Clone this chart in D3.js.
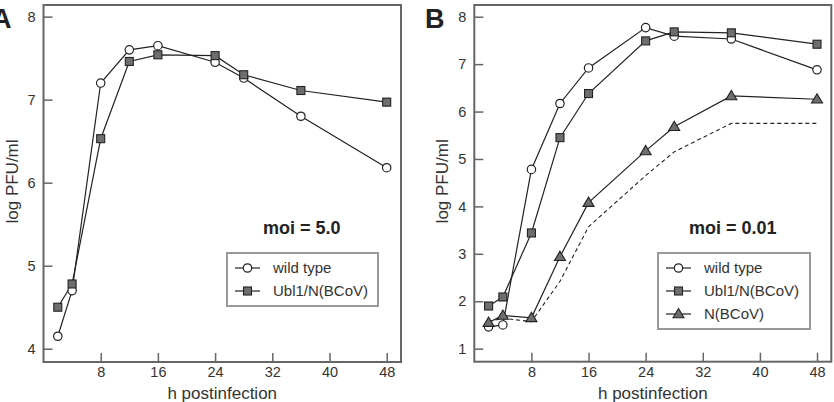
<!DOCTYPE html>
<html>
<head>
<meta charset="utf-8">
<script src="https://cdn.jsdelivr.net/npm/d3@7"></script>
<style>
  body { margin: 0; background: #fff; }
  svg { display: block; font-family: "Liberation Sans", Arial, sans-serif; }
</style>
</head>
<body>
<svg id="chart" width="834" height="402"></svg>
<script>
// horas postinfección (común a los dos paneles)
const horas = [2, 4, 8, 12, 16, 24, 28, 36, 48];
const ticksX = [8, 16, 24, 32, 40, 48];

// Panel A, moi = 5.0
const aWildType = [4.15, 4.70, 7.20, 7.60, 7.65, 7.45, 7.26, 6.80, 6.18];
const aUbl1 = [4.50, 4.78, 6.53, 7.46, 7.54, 7.53, 7.30, 7.11, 6.97];
const ticksYA = [4, 5, 6, 7, 8];

// Panel B, moi = 0.01
const bWildType = [1.46, 1.50, 4.78, 6.17, 6.92, 7.77, 7.59, 7.53, 6.88];
const bUbl1 = [1.90, 2.09, 3.44, 5.45, 6.38, 7.49, 7.68, 7.66, 7.42];
const bNBCoV = [1.55, 1.70, 1.65, 2.94, 4.08, 5.17, 5.68, 6.33, 6.26];
const bDashed = [1.57, 1.64, 1.57, 2.42, 3.57, 4.65, 5.15, 5.75, 5.75];
const ticksYB = [1, 2, 3, 4, 5, 6, 7, 8];

const svg = d3.select("#chart");
const gris = "#666";
const tinta = "#222";

// Dibuja un marcador según su tipo
function marcador(g, tipo, x, y) {
    if (tipo === "circle") {
        g.append("circle").attr("cx", x).attr("cy", y).attr("r", 4.2)
            .attr("fill", "#fff").attr("stroke", tinta).attr("stroke-width", 1.2);
    } else if (tipo === "square") {
        g.append("rect").attr("x", x - 4).attr("y", y - 4).attr("width", 8).attr("height", 8)
            .attr("fill", "#6e6e6e").attr("stroke", tinta).attr("stroke-width", 1.1);
    } else if (tipo === "triangle") {
        g.append("path")
            .attr("d", `M${x},${y - 5.5}L${x + 5.5},${y + 3.8}L${x - 5.5},${y + 3.8}Z`)
            .attr("fill", "#6e6e6e").attr("stroke", tinta).attr("stroke-width", 1.1);
    }
}

function dibujarPanel(cfg) {
    const x = d3.scaleLinear().domain([0, 50]).range([cfg.left, cfg.right]);
    const y = d3.scaleLinear().domain(cfg.yDomain).range([cfg.bottom, cfg.top]);
    const g = svg.append("g");

    // Marco
    g.append("rect")
        .attr("x", cfg.left).attr("y", cfg.top)
        .attr("width", cfg.right - cfg.left).attr("height", cfg.bottom - cfg.top)
        .attr("fill", "none").attr("stroke", gris).attr("stroke-width", 2);

    // Eje Y (ticks hacia dentro)
    const ejeY = g.append("g").attr("transform", `translate(${cfg.left},0)`)
        .call(d3.axisRight(y).tickValues(cfg.ticksY).tickSize(9).tickFormat(d3.format("d")));
    ejeY.select(".domain").remove();
    ejeY.selectAll(".tick line").attr("stroke", gris).attr("stroke-width", 1.5);
    ejeY.selectAll(".tick text").attr("x", -8).attr("text-anchor", "end")
        .attr("fill", "#333").attr("font-size", 14.5);

    // Eje X (ticks hacia dentro)
    const ejeX = g.append("g").attr("transform", `translate(0,${cfg.bottom})`)
        .call(d3.axisTop(x).tickValues(ticksX).tickSize(9));
    ejeX.select(".domain").remove();
    ejeX.selectAll(".tick line").attr("stroke", gris).attr("stroke-width", 1.5);
    ejeX.selectAll(".tick text").attr("y", 5).attr("dy", "0.71em")
        .attr("fill", "#333").attr("font-size", 14.5);

    // Títulos de ejes
    g.append("text")
        .attr("x", (cfg.left + cfg.right) / 2).attr("y", 399)
        .attr("text-anchor", "middle").attr("font-size", 17).attr("fill", "#333")
        .text("h postinfection");
    g.append("text")
        .attr("transform", `translate(${cfg.left - 26},${(cfg.top + cfg.bottom) / 2 - 2}) rotate(-90)`)
        .attr("text-anchor", "middle").attr("font-size", 17).attr("fill", "#333")
        .text("log PFU/ml");

    // Letra del panel
    g.append("text")
        .attr("x", cfg.letraX).attr("y", 28)
        .attr("font-size", 27).attr("font-weight", "bold").attr("fill", "#222")
        .text(cfg.letra);

    // moi
    g.append("text")
        .attr("x", cfg.moiX).attr("y", 234)
        .attr("font-size", 18).attr("font-weight", "bold").attr("fill", "#222")
        .text(cfg.moi);

    const linea = d3.line().x((d, i) => x(horas[i])).y(d => y(d));

    if (cfg.dashed) {
        g.append("path").attr("d", linea(cfg.dashed))
            .attr("fill", "none").attr("stroke", tinta).attr("stroke-width", 1.1)
            .attr("stroke-dasharray", "4,3");
    }

    cfg.series.forEach(s => {
        g.append("path").attr("d", linea(s.values))
            .attr("fill", "none").attr("stroke", tinta).attr("stroke-width", 1.2);
    });
    cfg.series.forEach(s => {
        s.values.forEach((v, i) => marcador(g, s.marker, x(horas[i]), y(v)));
    });

    // Leyenda
    const lg = cfg.legend;
    g.append("rect")
        .attr("x", lg.x).attr("y", lg.y).attr("width", lg.w).attr("height", lg.h)
        .attr("fill", "#fff").attr("stroke", "#9a9a9a").attr("stroke-width", 2);
    cfg.series.forEach((s, i) => {
        const cy = lg.y + 15 + i * 23;
        g.append("line").attr("x1", lg.x + 8).attr("x2", lg.x + 33).attr("y1", cy).attr("y2", cy)
            .attr("stroke", tinta).attr("stroke-width", 1.2);
        marcador(g, s.marker, lg.x + 20.5, cy);
        g.append("text").attr("x", lg.x + 46).attr("y", cy + 5)
            .attr("font-size", 15).attr("fill", "#333").text(s.name);
    });
}

dibujarPanel({
    left: 43.5, right: 401, top: 5, bottom: 362,
    yDomain: [3.84, 8.14], ticksY: ticksYA,
    letra: "A", letraX: -8, moi: "moi = 5.0", moiX: 263,
    legend: { x: 227, y: 253, w: 151, h: 53 },
    series: [
        { name: "wild type", values: aWildType, marker: "circle" },
        { name: "Ubl1/N(BCoV)", values: aUbl1, marker: "square" }
    ]
});

dibujarPanel({
    left: 474.3, right: 831.3, top: 5, bottom: 361.7,
    yDomain: [0.725, 8.247], ticksY: ticksYB,
    letra: "B", letraX: 425, moi: "moi = 0.01", moiX: 689,
    legend: { x: 658, y: 253, w: 152, h: 76 },
    dashed: bDashed,
    series: [
        { name: "wild type", values: bWildType, marker: "circle" },
        { name: "Ubl1/N(BCoV)", values: bUbl1, marker: "square" },
        { name: "N(BCoV)", values: bNBCoV, marker: "triangle" }
    ]
});
</script>
</body>
</html>
